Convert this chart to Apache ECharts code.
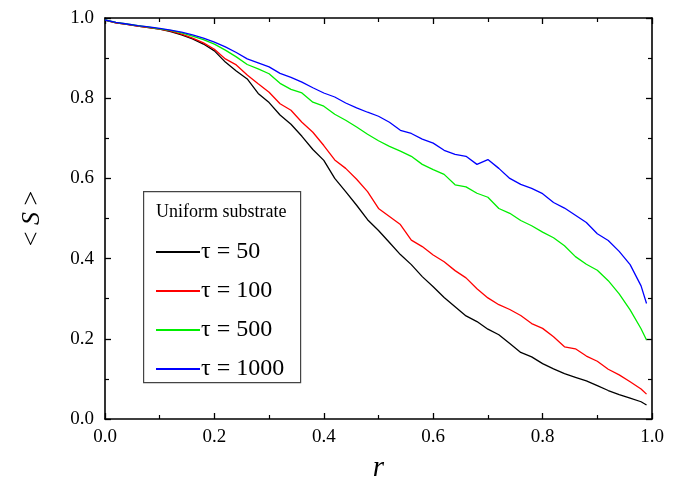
<!DOCTYPE html>
<html>
<head>
<meta charset="utf-8">
<script src="https://cdn.jsdelivr.net/npm/echarts@6/dist/echarts.min.js"></script>
<style>html,body{margin:0;padding:0;background:#fff}#c{width:682px;height:483px}</style>
</head>
<body>
<div id="c"></div>
<script>
var rValues = [0.00,0.02,0.04,0.06,0.08,0.10,0.12,0.14,0.16,0.18,0.20,0.22,0.24,0.26,0.28,0.30,0.32,0.34,0.36,0.38,0.40,0.42,0.44,0.46,0.48,0.50,0.52,0.54,0.56,0.58,0.60,0.62,0.64,0.66,0.68,0.70,0.72,0.74,0.76,0.78,0.80,0.82,0.84,0.86,0.88,0.90,0.92,0.94,0.96,0.98,0.99];
var tau50 = [0.995,0.988,0.984,0.980,0.976,0.972,0.966,0.958,0.948,0.935,0.918,0.890,0.868,0.848,0.812,0.789,0.758,0.735,0.705,0.672,0.645,0.600,0.567,0.533,0.497,0.470,0.440,0.410,0.385,0.355,0.330,0.303,0.280,0.257,0.243,0.224,0.210,0.188,0.166,0.155,0.138,0.125,0.113,0.104,0.095,0.083,0.071,0.061,0.052,0.043,0.035];
var tau100 = [0.995,0.988,0.984,0.980,0.976,0.972,0.967,0.960,0.950,0.938,0.922,0.898,0.883,0.858,0.836,0.815,0.786,0.770,0.740,0.715,0.682,0.646,0.625,0.598,0.567,0.525,0.505,0.485,0.446,0.430,0.409,0.392,0.370,0.352,0.325,0.302,0.285,0.273,0.258,0.238,0.226,0.205,0.180,0.175,0.157,0.144,0.124,0.110,0.093,0.075,0.062];
var tau500 = [0.995,0.989,0.985,0.981,0.977,0.973,0.969,0.963,0.955,0.946,0.935,0.920,0.903,0.884,0.873,0.861,0.837,0.822,0.813,0.790,0.780,0.760,0.745,0.728,0.710,0.694,0.680,0.668,0.655,0.635,0.622,0.610,0.584,0.579,0.563,0.553,0.525,0.513,0.495,0.482,0.466,0.452,0.432,0.405,0.386,0.371,0.345,0.312,0.272,0.225,0.197];
var tau1000 = [0.995,0.989,0.985,0.981,0.978,0.974,0.970,0.965,0.958,0.950,0.940,0.928,0.914,0.898,0.888,0.878,0.862,0.852,0.840,0.826,0.813,0.803,0.788,0.776,0.765,0.755,0.740,0.720,0.712,0.698,0.688,0.670,0.660,0.655,0.635,0.647,0.625,0.600,0.585,0.575,0.562,0.540,0.526,0.508,0.490,0.462,0.445,0.418,0.385,0.332,0.288];
var seriesNames = ['\u03c4 = 50','\u03c4 = 100','\u03c4 = 500','\u03c4 = 1000'];
var seriesColors = ['#000000','#ff0000','#00ee00','#0000ff'];
var legendTitle = 'Uniform substrate';

var FONT = '"Liberation Serif", "Times New Roman", serif';
var allValues = [tau50, tau100, tau500, tau1000];
function pairs(vals){ return rValues.map(function(r,i){ return [r, vals[i]]; }); }

var chart = echarts.init(document.getElementById('c'), null, {renderer:'canvas'});
var axisLine = {show:true, onZero:false, lineStyle:{color:'#000', width:1.6}};
var tickStyle = {show:true, inside:true, length:6, lineStyle:{color:'#000', width:1.3}};
var minorStyle = {show:true, splitNumber:2, length:4, lineStyle:{color:'#000', width:1.2}};
var option = {
  animation:false,
  backgroundColor:'#fff',
  grid:{left:105, right:30, top:18, bottom:64, containLabel:false, outerBoundsMode:'none'},
  xAxis:[{
    type:'value', min:0, max:1, interval:0.2, position:'bottom',
    axisLine:axisLine, axisTick:tickStyle, minorTick:minorStyle,
    splitLine:{show:false}, minorSplitLine:{show:false},
    axisLabel:{color:'#000', fontFamily:FONT, fontSize:19, margin:9, formatter:function(v){return v.toFixed(1);}},
    name:'r', nameLocation:'middle', nameGap:35,
    nameTextStyle:{color:'#000', fontFamily:FONT, fontSize:29, fontStyle:'italic'}
  },{
    type:'value', min:0, max:1, interval:0.2, position:'top',
    axisLine:axisLine, axisTick:tickStyle, minorTick:minorStyle,
    splitLine:{show:false}, minorSplitLine:{show:false}, axisLabel:{show:false}
  }],
  yAxis:[{
    type:'value', min:0, max:1, interval:0.2, position:'left',
    axisLine:axisLine, axisTick:tickStyle, minorTick:minorStyle,
    splitLine:{show:false}, minorSplitLine:{show:false},
    axisLabel:{color:'#000', fontFamily:FONT, fontSize:19, margin:11, formatter:function(v){return v.toFixed(1);}},
    name:'< {i|S} >', nameLocation:'middle', nameGap:60, nameRotate:90,
    nameTextStyle:{color:'#000', fontFamily:FONT, fontSize:26,
      rich:{i:{fontStyle:'italic', fontFamily:FONT, fontSize:26, color:'#000'}}}
  },{
    type:'value', min:0, max:1, interval:0.2, position:'right',
    axisLine:axisLine, axisTick:tickStyle, minorTick:minorStyle,
    splitLine:{show:false}, minorSplitLine:{show:false}, axisLabel:{show:false}
  }],
  legend:{
    data:seriesNames, orient:'vertical', left:151, top:235, z:100,
    itemWidth:44, itemHeight:2, itemGap:15, icon:'rect',
    textStyle:{color:'#000', fontFamily:FONT, fontSize:24, padding:[0,0,0,-4]}
  },
  graphic:[
    {type:'rect', left:143, top:191, shape:{width:157, height:191}, style:{fill:'#fff', stroke:'#444', lineWidth:1.2}, z:5},
    {type:'text', left:156, top:203, style:{text:legendTitle, font:'18px ' + FONT, fill:'#000'}, z:6}
  ],
  series: allValues.map(function(vals, k){
    return {
      name:seriesNames[k], type:'line', xAxisIndex:0, yAxisIndex:0,
      data:pairs(vals), showSymbol:false, symbol:'none',
      lineStyle:{color:seriesColors[k], width:1.3},
      itemStyle:{color:seriesColors[k]}
    };
  })
};
chart.setOption(option);
</script>
</body>
</html>
